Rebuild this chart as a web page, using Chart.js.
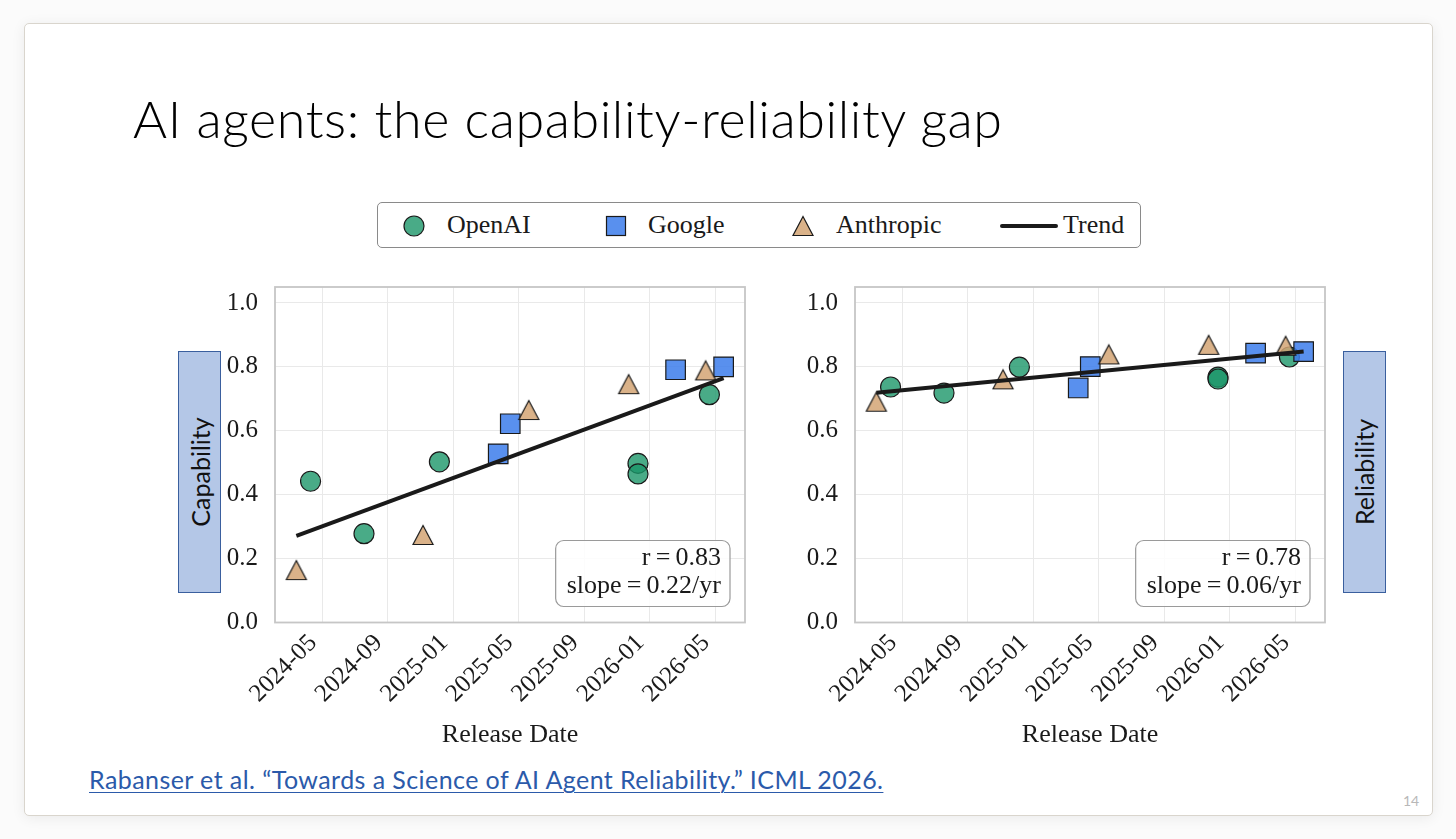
<!DOCTYPE html>
<html>
<head>
<meta charset="utf-8">
<title>AI agents: the capability-reliability gap</title>
<script src="https://cdn.jsdelivr.net/npm/chart.js@4.4.1/dist/chart.umd.min.js"></script>
<style>
  html, body { margin: 0; padding: 0; }
  body { width: 1456px; height: 839px; background: #fbfbfb; overflow: hidden; position: relative; font-family: 'Liberation Serif', serif; color: #1a1a1a; }
  #slide { position: absolute; left: 24px; top: 23px; width: 1407px; height: 791px; background: #fff; border: 1px solid #d9d5cd; border-radius: 5px; box-shadow: 0 2px 14px rgba(0,0,0,0.07); }
  #title { position: absolute; left: 133px; top: 88px; font-family: Lato, 'Open Sans', sans-serif; font-weight: 300; font-size: 52px; line-height: 60px; white-space: nowrap; color: #000; }
  #legend { position: absolute; left: 377px; top: 202px; width: 762px; height: 44px; border: 1.5px solid #8a8a8a; border-radius: 5px; background: #fff; }
  #legend .item { position: absolute; top: 0; height: 44px; line-height: 44px; font-size: 26px; white-space: nowrap; }
  #legend svg { position: absolute; }
  .chartbox { position: absolute; top: 255px; width: 570px; height: 505px; }
  .sidelabel { position: absolute; top: 351px; width: 41px; height: 240px; background: #b4c7e7; border: 1px solid #3a5f9e; display: flex; align-items: center; justify-content: center; }
  .sidelabel span { transform: rotate(-90deg); white-space: nowrap; font-family: Lato, 'Open Sans', sans-serif; font-weight: 400; font-size: 25px; color: #111; }
  #cite { position: absolute; left: 89px; top: 764px; font-family: Lato, 'Open Sans', sans-serif; font-weight: 400; font-size: 25px; line-height: 30px; color: #2b5aaa; text-decoration: underline; text-decoration-thickness: 1px; text-underline-offset: 3px; white-space: nowrap; }
  #pageno { position: absolute; left: 1403px; top: 792px; font-family: Lato, sans-serif; font-size: 14px; color: #b8b8b8; }
</style>
</head>
<body>
<div id="slide"></div>
<div id="title">AI agents: the capability-reliability gap</div>

<div id="legend">
  <svg style="left:24px;top:11px" width="24" height="24"><circle cx="12" cy="12" r="10" fill="#49ab87" stroke="#1a1a1a" stroke-width="1.2"/></svg>
  <div class="item" style="left:69px">OpenAI</div>
  <svg style="left:226px;top:11px" width="24" height="24"><rect x="2.5" y="2.5" width="19" height="19" fill="#5990ee" stroke="#1a1a1a" stroke-width="1.2"/></svg>
  <div class="item" style="left:270px">Google</div>
  <svg style="left:413px;top:11px" width="24" height="24"><polygon points="12,2.5 2,21.5 22,21.5" fill="#dab289" stroke="#1a1a1a" stroke-width="1.2"/></svg>
  <div class="item" style="left:458px">Anthropic</div>
  <svg style="left:622px;top:11px" width="58" height="24"><line x1="2" y1="12" x2="56" y2="12" stroke="#1a1a1a" stroke-width="4" stroke-linecap="round"/></svg>
  <div class="item" style="left:685px">Trend</div>
</div>

<div class="sidelabel" style="left:178px"><span>Capability</span></div>
<div class="sidelabel" style="left:1343px"><span>Reliability</span></div>

<div class="chartbox" style="left:190px"><canvas id="capChart"></canvas></div>
<div class="chartbox" style="left:770px"><canvas id="relChart"></canvas></div>

<div id="cite">Rabanser et al. “Towards a Science of AI Agent Reliability.” ICML 2026.</div>
<div id="pageno">14</div>

<script>
// release dates per lab
const openaiDates = ['2024-04-10', '2024-07-18', '2024-12-06', '2025-12-10', '2025-12-10', '2026-04-21'];
const googleDates = ['2025-03-24', '2025-04-16', '2026-02-19', '2026-05-17'];
const anthropicDates = ['2024-03-14', '2024-11-06', '2025-05-20', '2025-11-23', '2026-04-14'];
const trendDates = ['2024-03-14', '2026-05-17'];

// left panel: capability
const openaiCapability = [0.442, 0.278, 0.503, 0.498, 0.465, 0.713];
const googleCapability = [0.528, 0.622, 0.791, 0.800];
const anthropicCapability = [0.164, 0.274, 0.665, 0.746, 0.789];
const capabilityTrend = [0.271, 0.765];

// right panel: reliability
const openaiReliability = [0.737, 0.718, 0.799, 0.768, 0.762, 0.831];
const googleReliability = [0.734, 0.801, 0.843, 0.848];
const anthropicReliability = [0.691, 0.761, 0.839, 0.869, 0.866];
const reliabilityTrend = [0.719, 0.848];

const xTickLabels = ['2024-05', '2024-09', '2025-01', '2025-05', '2025-09', '2026-01', '2026-05'];
const yTicks = [0, 0.2, 0.4, 0.6, 0.8, 1.0];
const capabilityStats = ['r=0.83', 'slope=0.22/yr'];
const reliabilityStats = ['r=0.78', 'slope=0.06/yr'];

// months since 2024-01
function toMonths(s) {
  const p = s.split('-').map(Number);
  return (p[0] - 2024) * 12 + (p[1] - 1) + (p[2] ? (p[2] - 1) / 30.4 : 0);
}
const tickValues = xTickLabels.map(toMonths);
const allX = openaiDates.concat(googleDates, anthropicDates).map(toMonths);
const xLo = Math.min.apply(null, allX), xHi = Math.max.apply(null, allX);
const xPad = (xHi - xLo) * 0.05;

const serif = "'Liberation Serif', 'Times New Roman', serif";
const ink = '#1a1a1a';

// matplotlib-like '^' marker, centred on its bounding box
const triImg = document.createElement('canvas');
triImg.width = 24; triImg.height = 24;
(function() {
  const c = triImg.getContext('2d');
  c.beginPath();
  c.moveTo(12, 2.5); c.lineTo(2, 21.5); c.lineTo(22, 21.5); c.closePath();
  c.fillStyle = 'rgba(212,165,116,0.85)';
  c.fill();
  c.lineWidth = 1.2; c.strokeStyle = ink; c.stroke();
})();

function pts(dates, vals) {
  return dates.map((d, i) => ({ x: toMonths(d), y: vals[i] }));
}

const framePlugin = {
  id: 'frame',
  beforeDatasetsDraw(chart) {
    const a = chart.chartArea, ctx = chart.ctx;
    ctx.save();
    ctx.strokeStyle = '#c6c6c6';
    ctx.lineWidth = 1.8;
    ctx.strokeRect(a.left, a.top, a.right - a.left, a.bottom - a.top);
    ctx.restore();
  }
};

// rounded text box in the lower right corner, like the matplotlib annotation
const statsPlugin = {
  id: 'stats',
  afterDatasetsDraw(chart, args, opts) {
    const a = chart.chartArea, ctx = chart.ctx;
    const lines = opts.lines.map(t => t.replace('=', '\u2009=\u2009'));
    ctx.save();
    ctx.font = '26px ' + serif;
    const w = Math.max.apply(null, lines.map(t => ctx.measureText(t).width)) + 20;
    const h = 66;
    const x = a.right - 15 - w, y = a.bottom - 16 - h;
    ctx.beginPath();
    ctx.roundRect(x, y, w, h, 8);
    ctx.fillStyle = 'rgba(255,255,255,0.85)';
    ctx.fill();
    ctx.strokeStyle = '#9a9a9a';
    ctx.lineWidth = 1.2;
    ctx.stroke();
    ctx.fillStyle = ink;
    ctx.textAlign = 'right';
    ctx.textBaseline = 'middle';
    ctx.fillText(lines[0], x + w - 9, y + 18);
    ctx.fillText(lines[1], x + w - 9, y + 46);
    ctx.restore();
  }
};

function makeChart(id, openaiVals, googleVals, anthropicVals, trendVals, stats) {
  return new Chart(document.getElementById(id), {
    type: 'scatter',
    data: {
      datasets: [
        {
          label: 'Trend', type: 'line', order: 0,
          data: pts(trendDates, trendVals),
          borderColor: ink, borderWidth: 4, pointRadius: 0, showLine: true, fill: false
        },
        {
          label: 'Anthropic', order: 1,
          data: pts(anthropicDates, anthropicVals),
          pointStyle: triImg, pointRadius: 12
        },
        {
          label: 'Google', order: 2,
          data: pts(googleDates, googleVals),
          pointStyle: 'rect', pointRadius: 13.8,
          pointBackgroundColor: 'rgba(60,125,235,0.85)', pointBorderColor: ink, pointBorderWidth: 1.2
        },
        {
          label: 'OpenAI', order: 3,
          data: pts(openaiDates, openaiVals),
          pointStyle: 'circle', pointRadius: 10,
          pointBackgroundColor: 'rgba(28,150,105,0.8)', pointBorderColor: ink, pointBorderWidth: 1.2
        }
      ]
    },
    options: {
      responsive: true,
      maintainAspectRatio: false,
      animation: false,
      events: [],
      layout: { padding: { top: 1, right: 15, left: 0, bottom: 0 } },
      plugins: {
        legend: { display: false },
        tooltip: { enabled: false },
        stats: { lines: stats }
      },
      scales: {
        x: {
          type: 'linear',
          min: xLo - xPad,
          max: xHi + xPad,
          afterBuildTicks: (scale) => { scale.ticks = tickValues.map(v => ({ value: v })); },
          afterFit: (scale) => { scale.height = 137.5; },
          grid: { color: '#e9e9e9', lineWidth: 1, drawTicks: false },
          border: { display: false },
          ticks: {
            autoSkip: false, maxRotation: 45, minRotation: 45, padding: 6, labelOffset: -9,
            color: ink, font: { family: serif, size: 25 },
            callback: (v) => xTickLabels[tickValues.indexOf(v)]
          },
          title: {
            display: true, text: 'Release Date', color: ink,
            font: { family: serif, size: 26 }, padding: { top: 0, bottom: 9 }
          }
        },
        y: {
          min: 0,
          max: 1.05,
          afterBuildTicks: (scale) => { scale.ticks = yTicks.map(v => ({ value: v })); },
          afterFit: (scale) => { scale.width = 85; },
          grid: { color: '#e9e9e9', lineWidth: 1, drawTicks: false },
          border: { display: false },
          ticks: {
            padding: 17, color: ink, font: { family: serif, size: 25 },
            callback: (v) => v.toFixed(1)
          }
        }
      }
    },
    plugins: [framePlugin, statsPlugin]
  });
}

makeChart('capChart', openaiCapability, googleCapability, anthropicCapability, capabilityTrend, capabilityStats);
makeChart('relChart', openaiReliability, googleReliability, anthropicReliability, reliabilityTrend, reliabilityStats);

// stretch title and citation to the widths they take in the slide
function fitWidth(el, target) {
  const w = el.getBoundingClientRect().width;
  const n = el.textContent.length - 1;
  el.style.letterSpacing = ((target - w) / n).toFixed(3) + 'px';
}
fitWidth(document.getElementById('title'), 869);
fitWidth(document.getElementById('cite'), 794);
</script>
</body>
</html>
